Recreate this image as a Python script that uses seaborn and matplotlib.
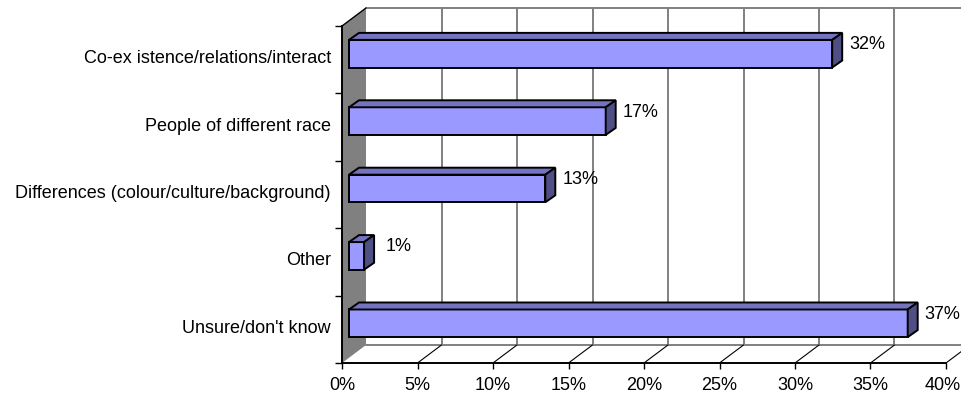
import numpy as np
import pandas as pd
import matplotlib
matplotlib.use('Agg')
import matplotlib.pyplot as plt
import seaborn as sns
from matplotlib.patches import Polygon
from matplotlib.lines import Line2D
from matplotlib.transforms import ScaledTranslation, IdentityTransform

categories = ["Co-ex istence/relations/interact", "People of different race",
              "Differences (colour/culture/background)", "Other", "Unsure/don't know"]
values = [32, 17, 13, 1, 37]
x_ticks = [0, 5, 10, 15, 20, 25, 30, 35, 40]
x_tick_labels = ['0%', '5%', '10%', '15%', '20%', '25%', '30%', '35%', '40%']

df = pd.DataFrame({'category': categories, 'value': values})

sns.set_style('white')
plt.rcParams['font.family'] = ['Liberation Sans', 'DejaVu Sans']
plt.rcParams['text.color'] = 'black'
plt.rcParams['xtick.color'] = 'black'
plt.rcParams['ytick.color'] = 'black'
FS = 13

DPI = 100
fig = plt.figure(figsize=(9.62, 4.02), dpi=DPI)
ax = fig.add_axes([342 / 962, 38 / 402, 604 / 962, 337 / 402])

# depth offsets (inches)
WALL = np.array([0.24, 0.18])
BAR_SHIFT = np.array([0.07, 0.06])
BAR_DEPTH = np.array([0.10, 0.07])

sns.barplot(data=df, x='value', y='category', orient='h', color='#9999FF',
            saturation=1, width=0.41, edgecolor='black', linewidth=1.4,
            ax=ax, zorder=4)

ax.set_xlim(0, 40)
ax.set_ylim(len(categories) - 0.5, -0.5)
y_top, y_bot = -0.5, len(categories) - 0.5

bar_tr = ax.transData + ScaledTranslation(*BAR_SHIFT, fig.dpi_scale_trans)


def disp(x, y, tr=None, off=(0, 0)):
    tr = ax.transData if tr is None else tr
    return tr.transform((x, y)) + np.asarray(off) * DPI


def add_poly(pts, **kw):
    ax.add_patch(Polygon(pts, closed=True, transform=IdentityTransform(),
                         clip_on=False, **kw))


def add_line(p0, p1, **kw):
    ax.add_line(Line2D([p0[0], p1[0]], [p0[1], p1[1]],
                       transform=IdentityTransform(), clip_on=False, **kw))


# left wall
add_poly([disp(0, y_top), disp(0, y_top, off=WALL), disp(0, y_bot, off=WALL), disp(0, y_bot)],
         facecolor='#808080', edgecolor='none', zorder=1)
add_line(disp(0, y_top), disp(0, y_top, off=WALL), color='black', lw=1.0, zorder=2)

# back wall gridlines and edges
for t in x_ticks[1:]:
    add_line(disp(t, y_bot, off=WALL), disp(t, y_top, off=WALL), color='#808080', lw=1.4, zorder=1)
add_line(disp(0, y_top, off=WALL), disp(x_ticks[-1], y_top, off=WALL), color='#808080', lw=1.4, zorder=1)
add_line(disp(0, y_bot, off=WALL), disp(x_ticks[-1], y_bot, off=WALL), color='#808080', lw=1.4, zorder=1)

# floor diagonals
for t in x_ticks[1:]:
    add_line(disp(t, y_bot), disp(t, y_bot, off=WALL), color='black', lw=0.8, zorder=1)

# 3D faces of bars
for p in ax.patches[:len(values)]:
    p.set_transform(bar_tr)
    p.set_clip_on(False)
    x0, w = p.get_x(), p.get_width()
    yt, yb = p.get_y(), p.get_y() + p.get_height()
    top = [disp(x0, yt, bar_tr), disp(x0 + w, yt, bar_tr),
           disp(x0 + w, yt, bar_tr, BAR_DEPTH), disp(x0, yt, bar_tr, BAR_DEPTH)]
    side = [disp(x0 + w, yt, bar_tr), disp(x0 + w, yb, bar_tr),
            disp(x0 + w, yb, bar_tr, BAR_DEPTH), disp(x0 + w, yt, bar_tr, BAR_DEPTH)]
    add_poly(top, facecolor='#7373C0', edgecolor='black', lw=1.4, zorder=4)
    add_poly(side, facecolor='#4F4F85', edgecolor='black', lw=1.4, zorder=4)

# value labels
lab_tr = ax.transData + ScaledTranslation(0.42, 0.16, fig.dpi_scale_trans)
for i, v in enumerate(values):
    ax.text(v, i, f'{v}%', transform=lab_tr, ha='center', va='center',
            fontsize=FS, color='black', zorder=5, clip_on=False)

# axes styling
for s in ['top', 'right']:
    ax.spines[s].set_visible(False)
for s in ['left', 'bottom']:
    ax.spines[s].set_color('black')
    ax.spines[s].set_linewidth(1.4)
    ax.spines[s].set_zorder(3)

ax.set_xticks(x_ticks, x_tick_labels)
ax.tick_params(axis='x', direction='out', length=4.5, width=1, colors='black',
               labelsize=FS, pad=5, bottom=True)
# keep the last tick label inside the figure edge
last = ax.get_xticklabels()[-1]
last.set_transform(last.get_transform() + ScaledTranslation(-0.03, 0, fig.dpi_scale_trans))

ax.set_yticks(range(len(categories)), categories)
ax.set_yticks(np.arange(-0.5, len(categories), 1), minor=True)
ax.tick_params(axis='y', which='major', length=0, labelsize=FS, pad=8, left=True,
               labelcolor='black')
ax.tick_params(axis='y', which='minor', direction='out', length=5, width=1, color='black', left=True)
for lbl in ax.get_yticklabels():
    lbl.set_transform(lbl.get_transform() + ScaledTranslation(0, 0.04, fig.dpi_scale_trans))
ax.set_xlabel('')
ax.set_ylabel('')
ax.patch.set_alpha(0)

fig.savefig('out.png', dpi=DPI, facecolor='white')
